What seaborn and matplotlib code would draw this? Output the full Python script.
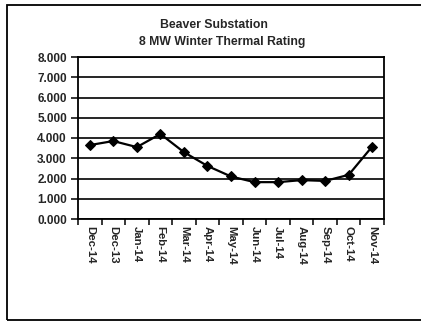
import numpy as np
import pandas as pd
import matplotlib
matplotlib.use("Agg")
import matplotlib.pyplot as plt
from matplotlib.patches import Rectangle
from matplotlib.ticker import FixedLocator, FuncFormatter
import seaborn as sns

months = ["Dec-14", "Dec-13", "Jan-14", "Feb-14", "Mar-14", "Apr-14", "May-14",
          "Jun-14", "Jul-14", "Aug-14", "Sep-14", "Oct-14", "Nov-14"]
rating = [3.65, 3.85, 3.55, 4.20, 3.30, 2.62, 2.10, 1.82, 1.82, 1.92, 1.88, 2.18, 3.58]
y_ticks = [0, 1, 2, 3, 4, 5, 6, 7, 8]
title_lines = ["Beaver Substation", "8 MW Winter Thermal Rating"]

df = pd.DataFrame({"month": months, "rating": rating, "pos": np.arange(len(months))})

sns.set_theme(style="white")
plt.rcParams["font.family"] = ["Liberation Sans", "DejaVu Sans"]

fig = plt.figure(figsize=(4.21, 3.22), dpi=100)
ax = fig.add_axes([78 / 421, 1 - 219 / 322, (384 - 78) / 421, (219 - 57) / 322])

# outer chart frame
fig.patches.append(Rectangle((7 / 421, 2 / 322), 1.2, 315 / 322, transform=fig.transFigure,
                             fill=False, edgecolor="black", linewidth=1.3))

sns.lineplot(data=df, x="pos", y="rating", ax=ax, color="black", linewidth=1.6,
             marker="D", markersize=5.5, markeredgecolor="black", markerfacecolor="black")

ax.set_xlim(-0.5, len(months) - 0.5)
ax.set_ylim(0, 8)
ax.set_yticks(y_ticks)
ax.yaxis.set_major_formatter(FuncFormatter(lambda v, p: f"{v:.3f}"))
ax.yaxis.grid(True, color="black", linewidth=1.2)
ax.set_axisbelow(True)

ax.set_xticks(np.arange(len(months)))
ax.set_xticklabels(months, rotation=270, fontsize=8.2, fontweight="bold")
ax.xaxis.set_minor_locator(FixedLocator(np.arange(-0.5, len(months), 1.0)))
ax.tick_params(axis="x", which="major", length=0, pad=5)
ax.tick_params(axis="x", which="minor", length=4, width=1.1, color="black", direction="out",
               bottom=True)
ax.tick_params(axis="y", length=5, width=1.1, color="black", direction="out", left=True, pad=3)
for lbl in ax.get_yticklabels():
    lbl.set_fontsize(8.5)
    lbl.set_fontweight("bold")

for s in ax.spines.values():
    s.set_color("black")
    s.set_linewidth(1.3)

ax.set_xlabel("")
ax.set_ylabel("")

fig.text(214 / 421, 1 - 25 / 322, title_lines[0], ha="center", va="center",
         fontsize=8.8, fontweight="bold")
fig.text(222 / 421, 1 - 42 / 322, title_lines[1], ha="center", va="center",
         fontsize=8.8, fontweight="bold")

fig.savefig("out.png", dpi=100, facecolor="white")
